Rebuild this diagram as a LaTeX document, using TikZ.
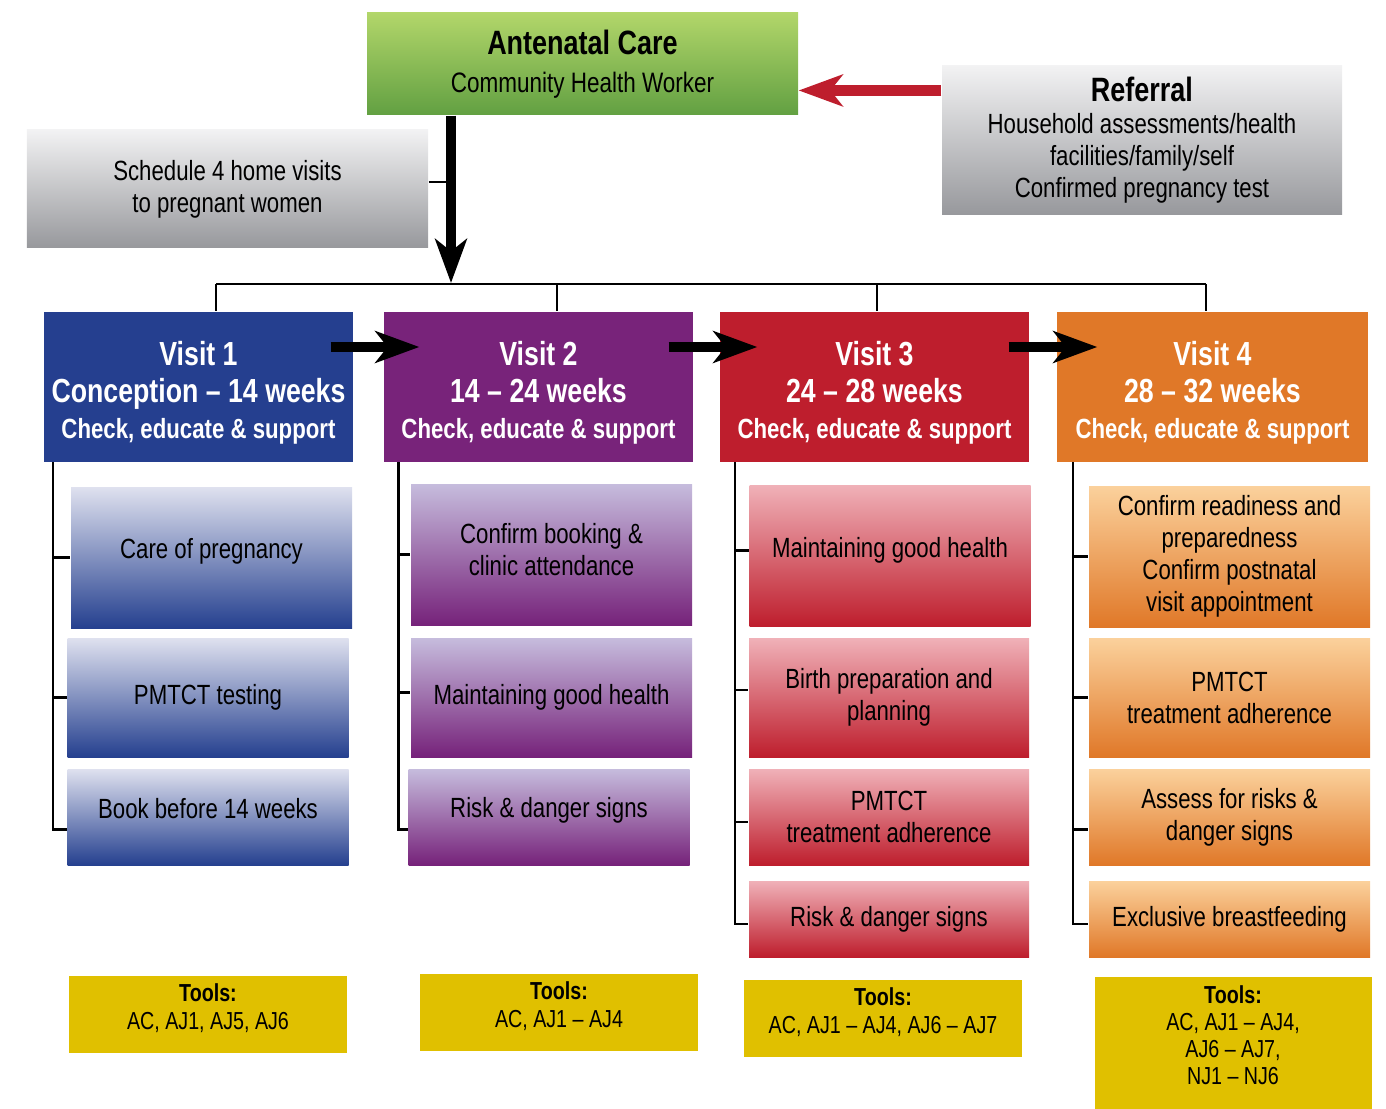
\documentclass[tikz,border=0pt]{standalone}
\usepackage{fontspec}
\setmainfont{Liberation Sans}[FakeStretch=0.80]
\usetikzlibrary{arrows.meta}
\definecolor{greenT}{RGB}{178,214,106}
\definecolor{greenB}{RGB}{98,160,66}
\definecolor{greyT}{RGB}{242,242,243}
\definecolor{greyB}{RGB}{151,152,156}
\definecolor{vone}{RGB}{37,63,143}
\definecolor{vtwo}{RGB}{120,35,122}
\definecolor{vthree}{RGB}{190,30,45}
\definecolor{vfour}{RGB}{224,120,40}
\definecolor{blueT}{RGB}{223,225,239}
\definecolor{blueB}{RGB}{37,64,143}
\definecolor{purpT}{RGB}{198,188,221}
\definecolor{purpB}{RGB}{118,34,122}
\definecolor{redT}{RGB}{240,177,184}
\definecolor{redB}{RGB}{190,30,45}
\definecolor{orngT}{RGB}{251,209,156}
\definecolor{orngB}{RGB}{224,120,40}
\definecolor{toolyel}{RGB}{224,192,0}
\newcommand{\hbig}{\fontsize{9.5}{10.5}\selectfont}
\newcommand{\hsml}{\fontsize{7.9}{10.5}\selectfont}
\begin{document}
\begin{tikzpicture}
  [x=1mm,y=-1mm,
   every node/.style={rectangle,inner sep=0pt,align=center,font=\fontsize{7.9}{9.1}\selectfont},
   greybox/.style={top color=greyT,bottom color=greyB},
   hdr/.style={fill=#1,text=white,font=\bfseries\fontsize{9.5}{10.5}\selectfont,text height=31.2pt,minimum width=30.9mm,minimum height=15mm},
   sub/.style={top color=#1T,bottom color=#1B,minimum width=28.1mm},
   tool/.style={fill=toolyel,font=\fontsize{7}{7.7}\selectfont,text depth=4.5pt,minimum width=27.8mm,minimum height=7.7mm},
   thin/.style={line width=0.7pt},
   bigarr/.style={line width=2.9pt,-{Stealth[length=12.5pt,width=9pt,inset=3.5pt]}}]
  \useasboundingbox (0,0) rectangle (138.6,110.9);

  \node[top color=greenT,bottom color=greenB,minimum width=43.1mm,minimum height=10.2mm,font=\fontsize{8}{10.8}\selectfont] (ac) at (58.25,6.4)
    {{\bfseries\fontsize{9.6}{10.8}\selectfont Antenatal Care}\\Community Health Worker};
  \node[greybox,minimum width=40.1mm,minimum height=11.8mm] (sched) at (22.75,18.9)
    {Schedule 4 home visits\\to pregnant women};
  \node[greybox,minimum width=40mm,minimum height=14.9mm] (ref) at (114.2,14.05)
    {{\bfseries\fontsize{9.6}{9.1}\selectfont Referral}\\Household assessments/health\\facilities/family/self\\Confirmed pregnancy test};

  \node[hdr=vone] (v1) at (19.85,38.7) {\hbig Visit 1\\\hbig Conception – 14 weeks\\\hsml Check, educate \& support};
  \node[hdr=vtwo] (v2) at (53.85,38.7) {\hbig Visit 2\\\hbig 14 – 24 weeks\\\hsml Check, educate \& support};
  \node[hdr=vthree] (v3) at (87.45,38.7) {\hbig Visit 3\\\hbig 24 – 28 weeks\\\hsml Check, educate \& support};
  \node[hdr=vfour,minimum width=31.1mm] (v4) at (121.25,38.7) {\hbig Visit 4\\\hbig 28 – 32 weeks\\\hsml Check, educate \& support};

  \node[sub=blue,minimum height=14.1mm,text depth=5.1pt] (b1) at (21.15,55.75) {Care of pregnancy};
  \node[sub=blue,minimum height=11.9mm] (b2) at (20.8,69.75) {PMTCT testing};
  \node[sub=blue,minimum height=9.6mm,text depth=5.1pt] (b3) at (20.8,81.7) {Book before 14 weeks};

  \node[sub=purp,minimum height=14.1mm,text depth=2.8pt] (c1) at (55.15,55.45) {Confirm booking \&\\clinic attendance};
  \node[sub=purp,minimum height=11.9mm] (c2) at (55.15,69.75) {Maintaining good health};
  \node[sub=purp,minimum height=9.6mm,text depth=5.6pt] (c3) at (54.9,81.7) {Risk \& danger signs};

  \node[sub=red,minimum height=14.1mm,text depth=4.5pt] (d1) at (89.0,55.55) {Maintaining good health};
  \node[sub=red,minimum height=11.9mm,minimum width=28mm] (d2) at (88.9,69.75) {Birth preparation and\\planning};
  \node[sub=red,minimum height=9.6mm,minimum width=28mm] (d3) at (88.9,81.7) {PMTCT\\treatment adherence};
  \node[sub=red,minimum height=7.6mm,minimum width=28mm] (d4) at (88.9,91.9) {Risk \& danger signs};

  \node[sub=orng,minimum height=14.1mm] (e1) at (122.95,55.65) {Confirm readiness and\\preparedness\\Confirm postnatal\\visit appointment};
  \node[sub=orng,minimum height=11.9mm] (e2) at (122.95,69.75) {PMTCT\\treatment adherence};
  \node[sub=orng,minimum height=9.6mm] (e3) at (122.95,81.7) {Assess for risks \&\\danger signs};
  \node[sub=orng,minimum height=7.6mm] (e4) at (122.95,91.9) {Exclusive breastfeeding};

  \node[tool] (t1) at (20.8,101.45) {\textbf{Tools:}\\AC, AJ1, AJ5, AJ6};
  \node[tool] (t2) at (55.9,101.25) {\textbf{Tools:}\\AC, AJ1 – AJ4};
  \node[tool] (t3) at (88.3,101.85) {\textbf{Tools:}\\AC, AJ1 – AJ4, AJ6 – AJ7};
  \node[tool,minimum height=13.2mm,minimum width=27.7mm] (t4) at (123.3,104.3)
    {\textbf{Tools:}\\AC, AJ1 – AJ4,\\AJ6 – AJ7,\\NJ1 – NJ6};

  \coordinate (p0) at (45.1,28.3);
  \coordinate (p1) at (21.6,28.4);
  \coordinate (p2) at (55.7,28.4);
  \coordinate (p3) at (87.7,28.4);
  \coordinate (p4) at (120.6,28.4);
  \coordinate (k1) at (5.3,46.2);
  \coordinate (k2) at (39.85,46.2);
  \coordinate (k3) at (73.5,46.2);
  \coordinate (k4) at (107.3,46.2);

  \draw[thin] (sched.2) -- (sched.2 -| p0);
  \draw[bigarr] (ac.south -| p0) -- (p0);
  \draw[bigarr,vthree] (ref.166.8) -- (ref.166.8 -| ac.east);

  \draw[thin] (p1) -- (p4);
  \foreach \p/\v in {p1/v1,p2/v2,p3/v3,p4/v4}
    \draw[thin] (\p) -- (\p |- \v.north);

  \foreach \a/\b/\s/\e in {v1/v2/2.3/3.6,v2/v3/2.5/3.8,v3/v4/2.1/4.1}
    \draw[bigarr] ([xshift=-\s mm,yshift=4mm]\a.east) -- ([xshift=\e mm,yshift=4mm]\b.west);

  \foreach \from/\to in {k1/b1.west,k1/b2.west,k1/b3.185,
   k2/c1.west,k2/c2.178,k2/c3.185,
   k3/d1.178,k3/d2.177,k3/d3.182,k3/d4.182,
   k4/e1.west,k4/e2.west,k4/e3.185,k4/e4.182}
    \draw[thin] (\from) |- (\to);
\end{tikzpicture}
\end{document}
